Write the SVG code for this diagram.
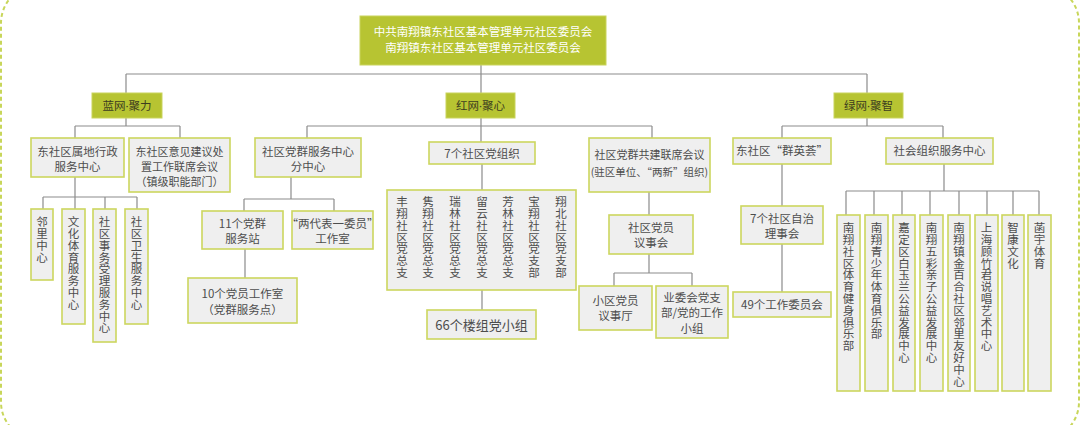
<svg xmlns="http://www.w3.org/2000/svg" width="1080" height="425" viewBox="0 0 1080 425">
<style>
.n{fill:#efefef;stroke:#ccd65e;stroke-width:1.6}
.h{fill:#b7c432;stroke:#c9d45c;stroke-width:1}
.t{font-family:"Noto Sans CJK SC","Noto Sans",sans-serif;font-size:11.5px;fill:#4d4d4d;text-anchor:middle}
.w{fill:#ffffff}
.d{fill:#3d3d1f}
.dot{font-family:"Noto Sans",sans-serif}
.v{writing-mode:vertical-rl;text-anchor:start;letter-spacing:0.3px}
.c{fill:none;stroke:#8c8c8c;stroke-width:1.2}
</style>
<rect x="1" y="-15" width="1078" height="455" rx="38" fill="#ffffff" stroke="#c8d65a" stroke-width="2" stroke-dasharray="4 3"/>
<g id="connectors">
<path class="c" d="M481,65V93M126,74H867M126,74V93M867,74V93"/>
<path class="c" d="M126,118V126M75,126H180M75,126V138M180,126V138"/>
<path class="c" d="M75,177V209M43,197H137M43,197V209M105,197V209M137,197V209"/>
<path class="c" d="M481,118V142M307,126H652M307,126V138M652,126V138"/>
<path class="c" d="M291,177V199M244,199H334M244,199V211M334,199V211M245,249V278"/>
<path class="c" d="M482,164V190M482,290V310"/>
<path class="c" d="M649,192V215M649,254V273M614,273H692M614,273V286M692,273V286"/>
<path class="c" d="M867,118V126M782,126H943M782,126V138M943,126V138"/>
<path class="c" d="M782,164V206M782,244V292"/>
<path class="c" d="M944,164V191M846,191H1039M846,191V215M874,191V215M902,191V215M930,191V215M959,191V215M987,191V215M1013,191V215M1039,191V215"/>
</g>
<g id="root"><rect class="h" x="360" y="16" width="246" height="49"/><text class="t w" x="483" y="36">中共南翔镇东社区基本管理单元社区委员会</text><text class="t w" x="483" y="52">南翔镇东社区基本管理单元社区委员会</text></g>
<g id="blue"><rect class="h" x="92" y="93" width="70" height="25"/><text class="t d" x="127" y="110">蓝网<tspan class="dot">·</tspan>聚力</text></g>
<g id="red"><rect class="h" x="446" y="93" width="69" height="25"/><text class="t d" x="480.5" y="110">红网<tspan class="dot">·</tspan>聚心</text></g>
<g id="green"><rect class="h" x="834" y="93" width="69" height="25"/><text class="t d" x="868.5" y="110">绿网<tspan class="dot">·</tspan>聚智</text></g>

<g id="b1"><rect class="n" x="31" y="138" width="93" height="39"/><text class="t" x="77.5" y="156">东社区属地行政</text><text class="t" x="77.5" y="171">服务中心</text></g>
<g id="b2"><rect class="n" x="129" y="138" width="101" height="54"/><text class="t" x="179.5" y="156" style="font-size:11px">东社区意见建议处</text><text class="t" x="179.5" y="171" style="font-size:11px">置工作联席会议</text><text class="t" x="179.5" y="186" style="font-size:11px">（镇级职能部门）</text></g>
<g id="b11"><rect class="n" x="31" y="209" width="22" height="71"/><text class="t v" x="42" y="216">邻里中心</text></g>
<g id="b12"><rect class="n" x="62" y="209" width="23" height="115"/><text class="t v" x="73.5" y="216">文化体育服务中心</text></g>
<g id="b13"><rect class="n" x="93" y="209" width="23" height="133"/><text class="t v" x="104.5" y="216">社区事务受理服务中心</text></g>
<g id="b14"><rect class="n" x="125" y="209" width="23" height="115"/><text class="t v" x="136.5" y="216">社区卫生服务中心</text></g>

<g id="r1"><rect class="n" x="255" y="138" width="106" height="39"/><text class="t" x="308" y="156">社区党群服务中心</text><text class="t" x="308" y="171">分中心</text></g>
<g id="r11"><rect class="n" x="202" y="211" width="81" height="38"/><text class="t" x="242.5" y="228">11个党群</text><text class="t" x="242.5" y="243">服务站</text></g>
<g id="r12"><rect class="n" x="292" y="211" width="81" height="38"/><text class="t" x="332.5" y="228">“两代表一委员”</text><text class="t" x="332.5" y="243">工作室</text></g>
<g id="r111"><rect class="n" x="188" y="278" width="109" height="45"/><text class="t" x="242.5" y="298">10个党员工作室</text><text class="t" x="242.5" y="314">（党群服务点）</text></g>

<g id="r2"><rect class="n" x="429" y="142" width="106" height="22"/><text class="t" x="482" y="158">7个社区党组织</text></g>
<g id="r21"><rect class="n" x="387" y="190" width="189" height="100"/>
<text class="t v" x="402" y="196">丰翔社区党总支</text>
<text class="t v" x="428" y="196">隽翔社区党总支</text>
<text class="t v" x="455" y="196">瑞林社区党总支</text>
<text class="t v" x="482" y="196">留云社区党总支</text>
<text class="t v" x="508" y="196">芳林社区党总支</text>
<text class="t v" x="534" y="196">宝翔社区党支部</text>
<text class="t v" x="561" y="196">翔北社区党支部</text></g>
<g id="r22"><rect class="n" x="427" y="310" width="109" height="29"/><text class="t" x="481.5" y="330" style="font-size:13px">66个楼组党小组</text></g>

<g id="r3"><rect class="n" x="589" y="138" width="121" height="54"/><text class="t" x="649.5" y="159" style="font-size:11px">社区党群共建联席会议</text><text class="t" x="649.5" y="176" style="font-size:10.5px">(驻区单位、“两新”组织)</text></g>
<g id="r31"><rect class="n" x="609" y="215" width="84" height="39"/><text class="t" x="651" y="232">社区党员</text><text class="t" x="651" y="247">议事会</text></g>
<g id="r311"><rect class="n" x="579" y="286" width="73" height="44"/><text class="t" x="615.5" y="305">小区党员</text><text class="t" x="615.5" y="320">议事厅</text></g>
<g id="r312"><rect class="n" x="656" y="286" width="72" height="52"/><text class="t" x="692" y="302">业委会党支</text><text class="t" x="692" y="317">部/党的工作</text><text class="t" x="692" y="333">小组</text></g>

<g id="g1"><rect class="n" x="733" y="138" width="98" height="26"/><text class="t" x="782" y="155">东社区“群英荟”</text></g>
<g id="g11"><rect class="n" x="741" y="206" width="82" height="38"/><text class="t" x="782" y="223">7个社区自治</text><text class="t" x="782" y="238">理事会</text></g>
<g id="g111"><rect class="n" x="733" y="292" width="98" height="25"/><text class="t" x="782" y="309">49个工作委员会</text></g>

<g id="g2"><rect class="n" x="886" y="138" width="107" height="26"/><text class="t" x="939.5" y="155">社会组织服务中心</text></g>
<g id="g21"><rect class="n" x="837" y="215" width="23" height="176"/><text class="t v" x="848.5" y="222">南翔社区体育健身俱乐部</text></g>
<g id="g22"><rect class="n" x="865" y="215" width="23" height="176"/><text class="t v" x="876.5" y="222">南翔青少年体育俱乐部</text></g>
<g id="g23"><rect class="n" x="893" y="215" width="22" height="176"/><text class="t v" x="904" y="222">嘉定区白玉兰公益发展中心</text></g>
<g id="g24"><rect class="n" x="920" y="215" width="23" height="176"/><text class="t v" x="931.5" y="222">南翔五彩亲子公益发展中心</text></g>
<g id="g25"><rect class="n" x="948" y="215" width="22" height="176"/><text class="t v" x="959" y="222">南翔镇金百合社区邻里友好中心</text></g>
<g id="g26"><rect class="n" x="975" y="215" width="23" height="176"/><text class="t v" x="986.5" y="222">上海顾竹君说唱艺术中心</text></g>
<g id="g27"><rect class="n" x="1002" y="215" width="22" height="176"/><text class="t v" x="1013" y="222">智康文化</text></g>
<g id="g28"><rect class="n" x="1028" y="215" width="23" height="176"/><text class="t v" x="1039.5" y="222">菡宇体育</text></g>
</svg>
